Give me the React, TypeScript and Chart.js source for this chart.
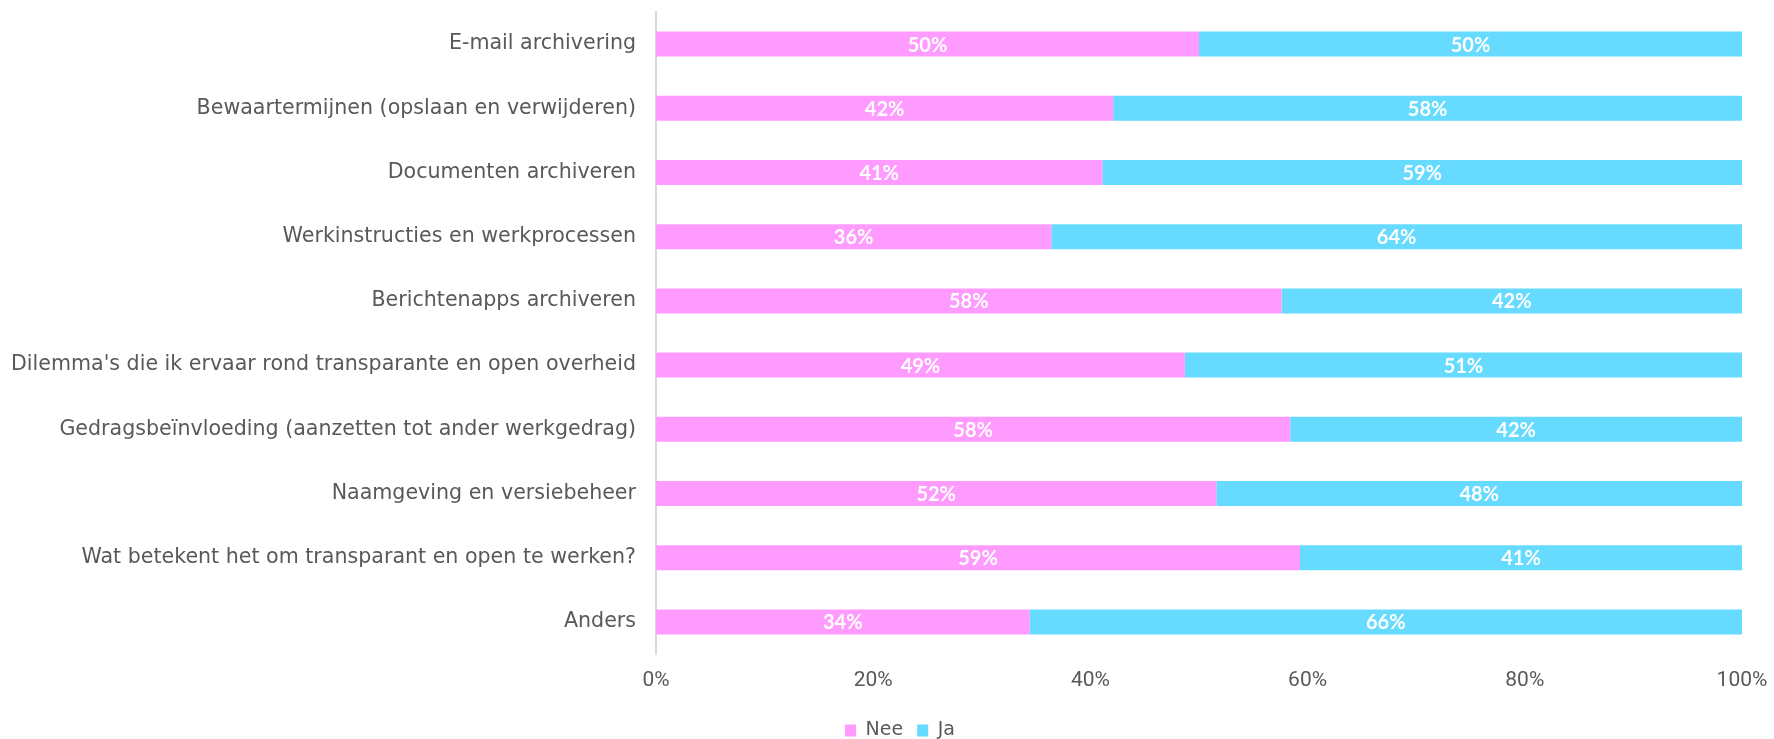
import React, { useEffect, useRef } from "react";
import { Chart, registerables } from "chart.js";

Chart.register(...registerables);

const categories = [
  "E-mail archivering",
  "Bewaartermijnen (opslaan en verwijderen)",
  "Documenten archiveren",
  "Werkinstructies en werkprocessen",
  "Berichtenapps archiveren",
  "Dilemma's die ik ervaar rond transparante en open overheid",
  "Gedragsbeïnvloeding (aanzetten tot ander werkgedrag)",
  "Naamgeving en versiebeheer",
  "Wat betekent het om transparant en open te werken?",
  "Anders",
];

const neeValues = [50.0, 42.1, 41.1, 36.4, 57.6, 48.7, 58.4, 51.6, 59.3, 34.4];
const jaValues = [50.0, 57.9, 58.9, 63.6, 42.4, 51.3, 41.6, 48.4, 40.7, 65.6];

const seriesNames = ["Nee", "Ja"];
const seriesColors = ["#FF9BFF", "#66DBFF"];

const xTickValues = [0, 20, 40, 60, 80, 100];

const FONT = "'DejaVu Sans', sans-serif";
const TICK_FONT = "Roboto, 'DejaVu Sans', sans-serif";
const LABEL_FONT = "Lato, 'DejaVu Sans', sans-serif";
const TEXT_COLOR = "#595959";

const dataLabelPlugin = {
  id: "dataLabels",
  afterDatasetsDraw(chart: any) {
    const ctx = chart.ctx;
    ctx.save();
    ctx.fillStyle = "#FFFFFF";
    ctx.font = `bold 20px ${LABEL_FONT}`;
    ctx.textAlign = "center";
    ctx.textBaseline = "middle";
    chart.data.datasets.forEach((ds: any, di: number) => {
      const meta = chart.getDatasetMeta(di);
      meta.data.forEach((bar: any, i: number) => {
        const v = ds.data[i];
        const cx = (bar.x + bar.base) / 2;
        ctx.fillText(`${Math.round(v)}%`, cx, bar.y + 1);
      });
    });
    ctx.restore();
  },
};

export default function App() {
  const canvasRef = useRef<HTMLCanvasElement | null>(null);

  useEffect(() => {
    if (!canvasRef.current) return;
    const chart = new Chart(canvasRef.current, {
      type: "bar",
      data: {
        labels: categories,
        datasets: [
          {
            label: seriesNames[0],
            data: neeValues,
            backgroundColor: seriesColors[0],
            barPercentage: 0.39,
            categoryPercentage: 1,
          },
          {
            label: seriesNames[1],
            data: jaValues,
            backgroundColor: seriesColors[1],
            barPercentage: 0.39,
            categoryPercentage: 1,
          },
        ],
      },
      options: {
        indexAxis: "y",
        animation: false,
        responsive: true,
        maintainAspectRatio: false,
        layout: { padding: { left: 58, right: 32, top: 12, bottom: 0 } },
        plugins: {
          legend: {
            position: "bottom",
            labels: {
              color: TEXT_COLOR,
              font: { family: FONT, size: 19 },
              boxWidth: 11,
              boxHeight: 12,
              padding: 14,
            },
          },
          tooltip: { enabled: false },
        },
        scales: {
          x: {
            stacked: true,
            min: 0,
            max: 100,
            afterBuildTicks(axis: any) {
              axis.ticks = xTickValues.map((v) => ({ value: v }));
            },
            afterFit(axis: any) {
              axis.height = 53;
              axis.paddingLeft = 0;
              axis.paddingRight = 0;
            },
            grid: { display: false, drawTicks: false },
            border: { display: false },
            ticks: {
              color: TEXT_COLOR,
              font: { family: TICK_FONT, size: 21 },
              padding: 14,
              callback: (v: any) => `${v}%`,
            },
          },
          y: {
            stacked: true,
            afterFit(axis: any) {
              axis.width = 598;
              axis.paddingTop = 0;
              axis.paddingBottom = 0;
              axis._computeLabelArea = () => undefined;
            },
            grid: { display: false, drawTicks: false },
            border: { display: true, color: "#D9D9D9", width: 2 },
            ticks: {
              color: TEXT_COLOR,
              font: { family: FONT, size: 20.6 },
              padding: 20,
            },
          },
        },
      },
      plugins: [dataLabelPlugin],
    });
    return () => chart.destroy();
  }, []);

  return (
    <div
      style={{
        position: "fixed",
        left: 0,
        top: 0,
        width: 1774,
        height: 750,
        background: "#FFFFFF",
      }}
    >
      <canvas ref={canvasRef} />
    </div>
  );
}
